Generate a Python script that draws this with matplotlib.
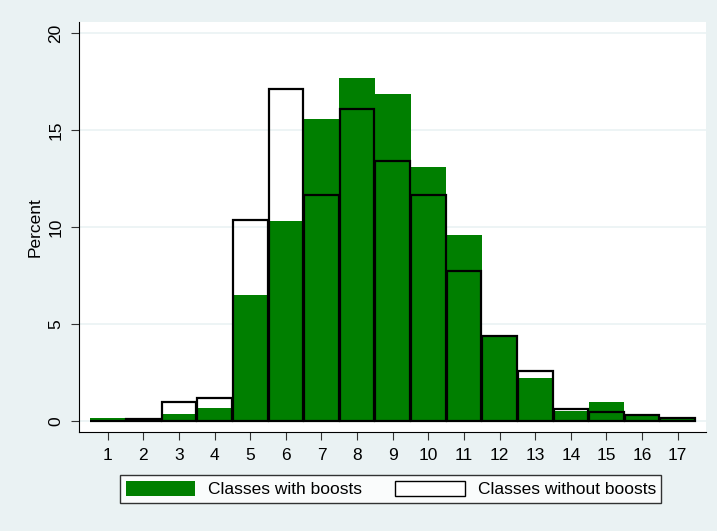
import numpy as np
import matplotlib.pyplot as plt
from matplotlib.patches import Patch

### class sizes 1..17 and percent of classes in each group

sizes = np.arange(1, 18)
with_boosts = [0.17, 0.05, 0.35, 0.7, 6.5, 10.3, 15.6, 17.7, 16.85, 13.1, 9.6, 4.35, 2.25, 0.5, 1.0, 0.3, 0.15]
without_boosts = [0.0, 0.12, 1.0, 1.2, 10.4, 17.15, 11.65, 16.1, 13.4, 11.65, 7.75, 4.4, 2.6, 0.65, 0.48, 0.3, 0.15]

bg = '#EAF2F3'
green = '#007F00'

plt.rcParams['font.family'] = ['Liberation Sans', 'DejaVu Sans']

fig = plt.figure(figsize=(7.17, 5.31), dpi=100, facecolor=bg)
ax = fig.add_axes([0.110, 0.186, 0.875, 0.773])

### green bars first, hollow black outlines on top
ax.bar(sizes, with_boosts, width=1.0, color=green, edgecolor='none', zorder=2)
ax.bar(sizes, without_boosts, width=0.97, facecolor='none', edgecolor='black', linewidth=1.6, zorder=3)

ax.set_xlim(0.19, 17.8)
ax.set_ylim(-0.57, 20.6)
ax.set_xticks(sizes)
ax.set_yticks([0, 5, 10, 15, 20])
ax.set_yticklabels(['0', '5', '10', '15', '20'], rotation=90, va='center')
ax.tick_params(labelsize=12.5, length=6, color='#333333', pad=5)
ax.yaxis.grid(True, color=bg, linewidth=1.2, zorder=0)
ax.set_axisbelow(True)
ax.set_ylabel('Percent', fontsize=12.5)

for s in ['top', 'right']:
    ax.spines[s].set_visible(False)

handles = [Patch(facecolor=green, edgecolor='none', label='Classes with boosts'),
           Patch(facecolor='white', edgecolor='black', label='Classes without boosts')]
leg = fig.legend(handles=handles, loc='center', bbox_to_anchor=(0.545, 0.079), ncol=2,
                 fontsize=12.5, frameon=True, fancybox=False, edgecolor='black',
                 handlelength=4.0, handleheight=1.0, handletextpad=0.75,
                 columnspacing=1.9, borderpad=0.3)
leg.get_frame().set_linewidth(1.0)

fig.savefig('out.png', dpi=100, facecolor=bg)
